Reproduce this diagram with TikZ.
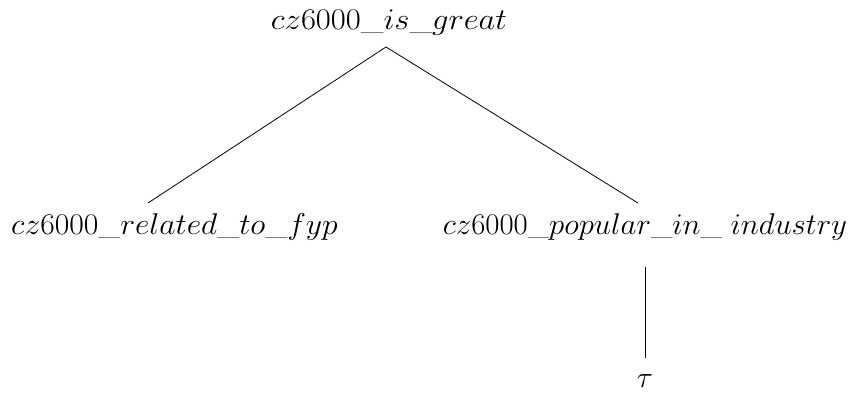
\documentclass[tikz,border=0pt]{standalone}
\usepackage{fix-cm}
\begin{document}
\begin{tikzpicture}[x=1pt,y=-1pt,
  lbl/.style={anchor=base,inner sep=0pt,font=\fontsize{30}{35}\selectfont},
  edge/.style={draw=black,line width=0.8pt}]
\useasboundingbox (0,0) rectangle (854,392);
\node[lbl] (root) at (389,29) {\scalebox{1.088}[1]{$cz6000\_is\_great$}};
\node[lbl] (left) at (174.5,234) {\scalebox{1.055}[1]{$cz6000\_related\_to\_fyp$}};
\node[lbl] (right) at (645,234) {\scalebox{1.027}[1]{$cz6000\_popular\_in\_\;industry$}};
\node[lbl] (tau) at (645,387) {$\tau$};
\coordinate (apex) at (386,47);
\coordinate (lend) at (148,203);
\coordinate (rend) at (638,203);
\coordinate (vtop) at (645,267);
\coordinate (vbot) at (645,358);
\draw[edge] (lend) -- (apex) -- (rend);
\draw[edge] (vtop) -- (vbot);
\end{tikzpicture}
\end{document}
